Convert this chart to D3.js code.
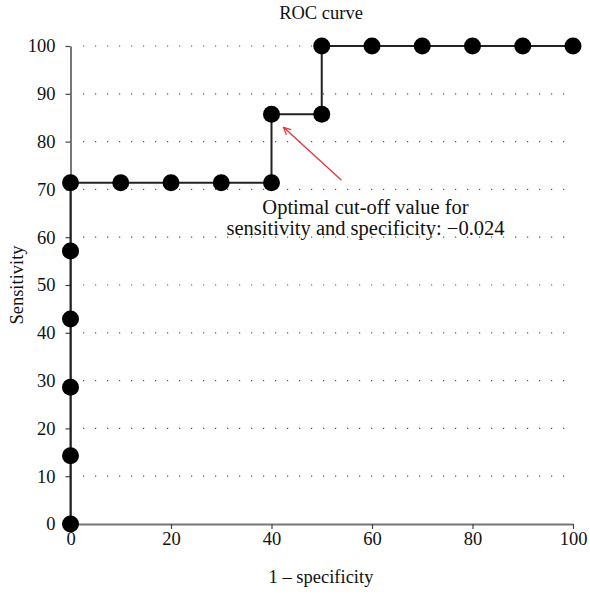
<!DOCTYPE html>
<html>
<head>
<meta charset="utf-8">
<script src="https://cdn.jsdelivr.net/npm/d3@7"></script>
<style>
  body { margin: 0; background: #fff; }
  text { font-family: "Liberation Serif", "DejaVu Serif", serif; fill: #111; }
</style>
</head>
<body>
<div id="chart-area"></div>
<script>
// data
const specComplement = [0, 0, 0, 0, 0, 0, 10, 20, 30, 40, 40, 50, 50, 60, 70, 80, 90, 100]
const sensitivity = [0, 14.3, 28.6, 42.9, 57.1, 71.4, 71.4, 71.4, 71.4, 71.4, 85.7, 85.7, 100, 100, 100, 100, 100, 100]
const xTicks = [0, 20, 40, 60, 80, 100]
const yTicks = [0, 10, 20, 30, 40, 50, 60, 70, 80, 90, 100]
const noteLines = ['Optimal cut-off value for', 'sensitivity and specificity: \u22120.024']
const optimal = { x: 40, y: 85.7 }

const MARGIN = { LEFT: 70.5, RIGHT: 17, TOP: 46, BOTTOM: 70 }
const WIDTH = 590 - MARGIN.LEFT - MARGIN.RIGHT
const HEIGHT = 594 - MARGIN.TOP - MARGIN.BOTTOM

const svg = d3.select('#chart-area').append('svg')
	.attr('width', 590)
	.attr('height', 594)

const g = svg.append('g')
	.attr('transform', `translate(${MARGIN.LEFT}, ${MARGIN.TOP})`)

const x = d3.scaleLinear().domain([0, 100]).range([0, WIDTH])
const y = d3.scaleLinear().domain([0, 100]).range([HEIGHT, 0])

// dotted gridlines
g.append('g')
	.selectAll('line')
	.data(yTicks.filter(d => d > 0))
	.enter().append('line')
		.attr('x1', 12.5)
		.attr('x2', WIDTH)
		.attr('y1', d => y(d))
		.attr('y2', d => y(d))
		.attr('stroke', '#555')
		.attr('stroke-width', 1.2)
		.attr('stroke-dasharray', '1.2,10.8')

// axes
const xAxisGroup = g.append('g')
	.attr('transform', `translate(0, ${HEIGHT})`)
	.call(d3.axisBottom(x).tickValues(xTicks).tickSize(5).tickSizeOuter(0).tickPadding(3))
const yAxisGroup = g.append('g')
	.call(d3.axisLeft(y).tickValues(yTicks).tickSize(5).tickSizeOuter(0).tickPadding(10))

svg.selectAll('.domain').attr('stroke', '#777').attr('stroke-width', 2)
svg.selectAll('.tick line').attr('stroke', '#444').attr('stroke-width', 1.2)
svg.selectAll('.tick text')
	.attr('font-size', '18.5px')
	.attr('font-family', '"Liberation Serif", serif')
	.attr('fill', '#111')

// ROC step line
const pts = specComplement.map((v, i) => ({ x: v, y: sensitivity[i] }))
const line = d3.line().x(d => x(d.x)).y(d => y(d.y))
g.append('path')
	.datum(pts)
	.attr('fill', 'none')
	.attr('stroke', '#222')
	.attr('stroke-width', 2)
	.attr('d', line)

g.selectAll('circle')
	.data(pts)
	.enter().append('circle')
		.attr('cx', d => x(d.x))
		.attr('cy', d => y(d.y))
		.attr('r', 8.5)
		.attr('fill', '#000')

// annotation arrow
svg.append('defs').append('marker')
	.attr('id', 'arrow')
	.attr('viewBox', '0 0 10 10')
	.attr('refX', 9).attr('refY', 5)
	.attr('markerWidth', 9).attr('markerHeight', 9)
	.attr('markerUnits', 'userSpaceOnUse')
	.attr('orient', 'auto')
	.append('path')
		.attr('d', 'M1,1 L9,5 L1,9')
		.attr('fill', 'none')
		.attr('stroke', '#e8333d')
		.attr('stroke-width', 1.4)

g.append('line')
	.attr('x1', x(optimal.x) + 70)
	.attr('y1', y(optimal.y) + 66)
	.attr('x2', x(optimal.x) + 12)
	.attr('y2', y(optimal.y) + 13)
	.attr('stroke', '#e8333d')
	.attr('stroke-width', 1.3)
	.attr('marker-end', 'url(#arrow)')

const note = g.append('text')
	.attr('x', 295)
	.attr('y', 168)
	.attr('text-anchor', 'middle')
	.attr('font-size', '20.5px')
note.selectAll('tspan')
	.data(noteLines)
	.enter().append('tspan')
		.attr('x', 295)
		.attr('dy', (d, i) => i === 0 ? 0 : 21)
		.text(d => d)

// title and axis labels
svg.append('text')
	.attr('x', 321)
	.attr('y', 19)
	.attr('text-anchor', 'middle')
	.attr('font-size', '18.5px')
	.text('ROC curve')

svg.append('text')
	.attr('x', 321)
	.attr('y', 583)
	.attr('text-anchor', 'middle')
	.attr('font-size', '18.5px')
	.text('1 \u2013 specificity')

svg.append('text')
	.attr('transform', 'rotate(-90)')
	.attr('x', -285)
	.attr('y', 23)
	.attr('text-anchor', 'middle')
	.attr('font-size', '18.5px')
	.text('Sensitivity')
</script>
</body>
</html>
